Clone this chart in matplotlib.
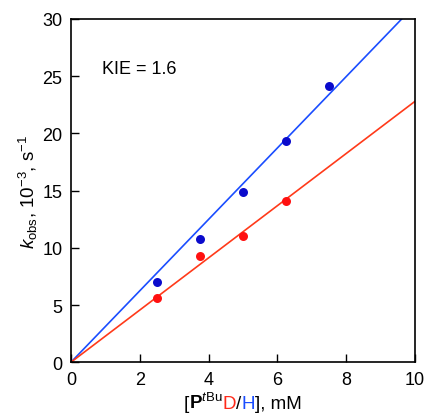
import numpy as np
import matplotlib
matplotlib.use("Agg")
import matplotlib.pyplot as plt
from matplotlib.offsetbox import TextArea, HPacker, AnchoredOffsetbox

plt.rcParams['font.family'] = ['Liberation Sans', 'DejaVu Sans']
plt.rcParams['mathtext.fontset'] = 'custom'
plt.rcParams['mathtext.rm'] = 'Liberation Sans'
plt.rcParams['mathtext.it'] = 'Liberation Sans:italic'
plt.rcParams['mathtext.bf'] = 'Liberation Sans:bold'

# data
conc_H = [2.5, 3.75, 5.0, 6.25, 7.5]
kobs_H = [7.05, 10.8, 14.85, 19.3, 24.1]
conc_D = [2.5, 3.75, 5.0, 6.25]
kobs_D = [5.6, 9.3, 11.0, 14.05]
slope_H = 3.12
slope_D = 2.28
kie_label = "KIE = 1.6"

fig = plt.figure(figsize=(4.27, 4.14), dpi=100)
ax = fig.add_axes([0.166, 0.1225, 0.806, 0.8295])

xfit = np.array([0, 10])
ax.plot(xfit, slope_H * xfit, color='#1a4dff', lw=1.2, zorder=2)
ax.plot(xfit, slope_D * xfit, color='#ff3a1a', lw=1.2, zorder=2)
ax.scatter(conc_H, kobs_H, s=42, color='#0a0acc', zorder=3, linewidths=0)
ax.scatter(conc_D, kobs_D, s=42, color='#ff1010', zorder=3, linewidths=0)

ax.set_xlim(0, 10)
ax.set_ylim(0, 30)
ax.set_xticks([0, 2, 4, 6, 8, 10])
ax.set_yticks([0, 5, 10, 15, 20, 25, 30])
ax.tick_params(direction='in', length=6, width=1, labelsize=13, pad=6,
               top=False, right=False)
for s in ax.spines.values():
    s.set_linewidth(1.2)

ax.text(0.9, 25.7, kie_label, fontsize=13, va='center', ha='left')

ax.set_ylabel(r"$\mathit{k}_\mathrm{obs}$, 10$^{-3}$, s$^{-1}$", fontsize=13.5, labelpad=2)

# x label with coloured D / H
tp = dict(fontsize=13.5)
parts = [
    TextArea("[", textprops=tp),
    TextArea(r"$\mathbf{P}^{\mathit{t}\mathrm{Bu}}$", textprops=tp),
    TextArea("D", textprops=dict(fontsize=13.5, color='#ff2a1a')),
    TextArea("/", textprops=tp),
    TextArea("H", textprops=dict(fontsize=13.5, color='#1a4dff')),
    TextArea("], mM", textprops=tp),
]
box = HPacker(children=parts, align='baseline', pad=0, sep=0)
anchored = AnchoredOffsetbox(loc='upper center', child=box, pad=0, borderpad=0,
                             frameon=False, bbox_to_anchor=(0.5, -0.085),
                             bbox_transform=ax.transAxes)
ax.add_artist(anchored)

fig.savefig("out.png", dpi=100)
